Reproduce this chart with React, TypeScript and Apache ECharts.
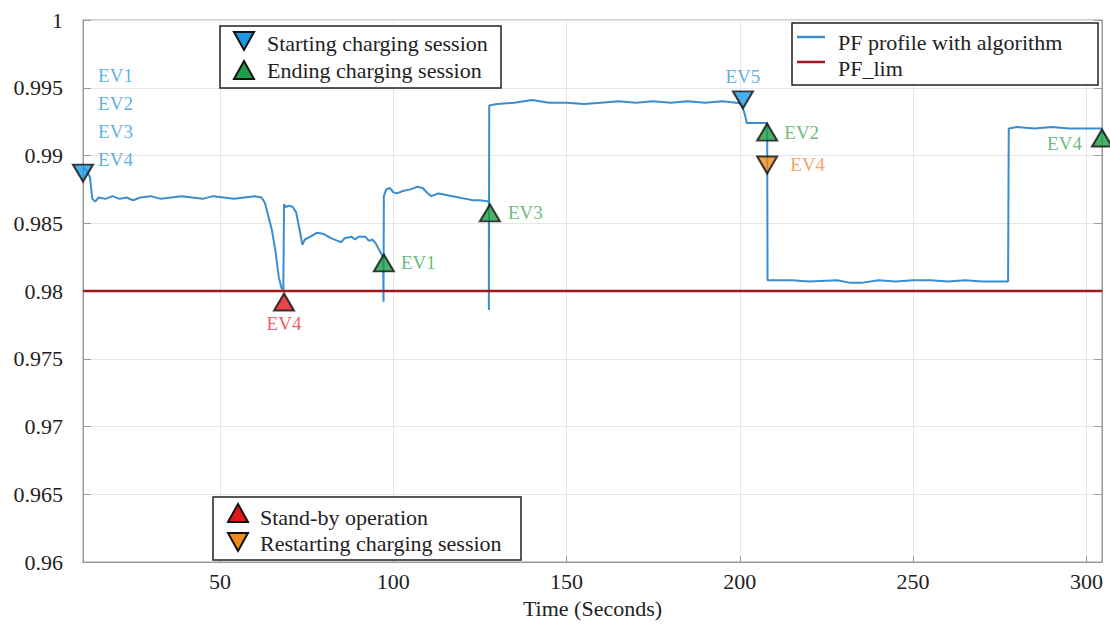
import React, { useEffect, useRef } from 'react';
import * as echarts from 'echarts';

// ---------- data ----------
const xTickValues = [50, 100, 150, 200, 250, 300];
const xRange = [10.5, 304.5];
const yRange = [0.96, 1.0];
const yStep = 0.005;

const pfProfile: [number, number][] = [
  [10.5, 0.9891], [11.5, 0.9889], [12.5, 0.9884], [13.2, 0.9868], [14, 0.9866], [15, 0.9869],
  [17, 0.9868], [19, 0.987], [21, 0.9868], [23, 0.9869], [25, 0.9867], [27, 0.9869], [30, 0.987],
  [33, 0.9868], [36, 0.9869], [39, 0.987], [42, 0.9869], [45, 0.9868], [48, 0.987], [51, 0.9869],
  [54, 0.9868], [57, 0.9869], [60, 0.987], [62, 0.9869], [63, 0.9865], [64, 0.9855], [65, 0.9845],
  [66, 0.983], [67, 0.981], [67.8, 0.9802], [68.3, 0.9801], [68.5, 0.9864], [69, 0.9862],
  [70, 0.9863], [71, 0.9862], [72, 0.9858], [73, 0.9845], [73.8, 0.9834], [74.5, 0.9838],
  [76, 0.984], [78, 0.9843], [80, 0.9842], [82, 0.9839], [84, 0.9837], [85, 0.9836], [86, 0.9839],
  [88, 0.984], [89, 0.9838], [90, 0.984], [92, 0.984], [93, 0.9837], [94, 0.9838], [95, 0.9835],
  [96, 0.983], [97.1, 0.9825], [97.2, 0.9792], [97.3, 0.987], [98, 0.9875], [99, 0.9876],
  [100, 0.9873], [101, 0.9872], [103, 0.9874], [105, 0.9875], [107, 0.9877], [108.5, 0.9876],
  [110, 0.9872], [111, 0.987], [113, 0.9872], [115, 0.9871], [117, 0.987], [119, 0.9869],
  [121, 0.9868], [123, 0.9867], [125, 0.9867], [127.6, 0.9866], [127.6, 0.9786], [127.7, 0.9937],
  [130, 0.9938], [135, 0.9939], [140, 0.9941], [145, 0.9939], [150, 0.9939], [155, 0.9938],
  [160, 0.9939], [165, 0.994], [170, 0.9939], [175, 0.994], [180, 0.9939], [185, 0.994],
  [190, 0.9939], [195, 0.994], [199, 0.9939], [200.5, 0.9938], [201.5, 0.993], [202, 0.9924],
  [205, 0.9924], [207.9, 0.9924], [208, 0.9808], [215, 0.9808], [220, 0.9807], [228, 0.9808],
  [232, 0.9806], [235, 0.9806], [240, 0.9808], [245, 0.9807], [250, 0.9808], [255, 0.9808],
  [260, 0.9807], [265, 0.9808], [270, 0.9807], [277.4, 0.9807], [277.6, 0.992], [280, 0.9921],
  [285, 0.992], [290, 0.9921], [295, 0.992], [300, 0.992], [304.5, 0.992],
];

const pfLimit: [number, number][] = [[10.5, 0.98], [304.5, 0.98]];

const startPoints: [number, number][] = [[10.5, 0.9887], [200.9, 0.9941]];
const startLabels = ['EV1\nEV2\nEV3\nEV4', 'EV5'];

const endPoints: [number, number][] = [[97.3, 0.98207], [127.9, 0.98576], [207.9, 0.99173], [304.5, 0.99129]];
const endLabels = ['EV1', 'EV3', 'EV2', 'EV4'];

const standbyPoints: [number, number][] = [[68.5, 0.97919]];
const standbyLabels = ['EV4'];

const restartPoints: [number, number][] = [[207.9, 0.9893]];
const restartLabels = ['EV4'];

const legendMarkers = ['Starting charging session', 'Ending charging session', 'Stand-by operation', 'Restarting charging session'];
const legendLines = ['PF profile with algorithm', 'PF_lim'];

// ---------- styles ----------
const FONT = "'Liberation Serif', 'Times New Roman', serif";
const C_LINE = '#3a8dcf';
const C_LIM = '#a3151f';
const C_BLUE = '#1b9be3';
const C_GREEN = '#1e9e45';
const C_RED = '#e4161e';
const C_ORANGE = '#f28a1c';
const T_BLUE = '#3a9bdb';
const T_GREEN = '#43a95a';
const T_RED = '#e2323a';
const T_ORANGE = '#f28b3f';

export default function App() {
  const ref = useRef<HTMLDivElement>(null);

  useEffect(() => {
    if (!ref.current) return;
    const chart = echarts.init(ref.current, undefined, { renderer: 'svg' });

    const markerBase = {
      type: 'scatter' as const,
      clip: false,
      z: 5,
      symbol: 'triangle',
      symbolSize: [20, 17],
    };
    const lblBase = { show: true, fontFamily: FONT, fontSize: 19 };

    const startLabelCfg = [
      { position: 'right', distance: 4, offset: [0, -56], lineHeight: 28 },
      { position: 'top', distance: 5 },
    ];
    const endLabelCfg = [
      { position: 'right', distance: 6, offset: [0, 0] },
      { position: 'right', distance: 7, offset: [0, 0] },
      { position: 'right', distance: 6, offset: [0, 0] },
      { position: 'left', distance: 9, offset: [0, 5] },
    ];

    const tri = (cx: number, cy: number, up: boolean, fill: string) => ({
      type: 'polygon',
      shape: {
        points: up
          ? [[cx - 10, cy + 9], [cx + 10, cy + 9], [cx, cy - 9]]
          : [[cx - 10, cy - 9], [cx + 10, cy - 9], [cx, cy + 9]],
      },
      style: { fill, stroke: '#111', lineWidth: 2 },
      z: 100,
    });
    const txt = (x: number, y: number, s: string) => ({
      type: 'text',
      x,
      y,
      style: { text: s, font: `22px ${FONT}`, fill: '#222', verticalAlign: 'middle', align: 'left' },
      z: 100,
    });
    const box = (x: number, y: number, w: number, h: number) => ({
      type: 'rect',
      shape: { x, y, width: w, height: h },
      style: { fill: '#fff', stroke: '#222', lineWidth: 1.5 },
      z: 99,
    });

    const option: any = {
      animation: false,
      backgroundColor: '#fff',
      grid: { left: 83, right: 8, top: 20, bottom: 62, show: true, borderColor: '#9a9a9a', borderWidth: 1 },
      xAxis: {
        type: 'value',
        min: xRange[0],
        max: xRange[1],
        name: 'Time (Seconds)',
        nameLocation: 'middle',
        nameGap: 35,
        nameTextStyle: { fontFamily: FONT, fontSize: 22, color: '#222' },
        axisLine: { show: true, lineStyle: { color: '#9a9a9a' } },
        axisTick: { show: true, inside: true, length: 6, customValues: xTickValues, lineStyle: { color: '#9a9a9a' } },
        axisLabel: { customValues: xTickValues, fontFamily: FONT, fontSize: 22, color: '#222', margin: 8 },
        splitLine: { show: true, lineStyle: { color: '#e6e6e6', width: 1 } },
      },
      yAxis: [
        {
          type: 'value',
          min: yRange[0],
          max: yRange[1],
          interval: yStep,
          axisLine: { show: true, lineStyle: { color: '#9a9a9a' } },
          axisTick: { show: true, inside: true, length: 8, lineStyle: { color: '#9a9a9a' } },
          axisLabel: {
            fontFamily: FONT,
            fontSize: 22,
            color: '#222',
            margin: 20,
            formatter: (v: number) => String(Math.round(v * 1000) / 1000),
          },
          splitLine: { show: true, lineStyle: { color: '#e6e6e6', width: 1 } },
        },
        {
          type: 'value',
          position: 'right',
          min: yRange[0],
          max: yRange[1],
          interval: yStep,
          axisLine: { show: true, lineStyle: { color: '#9a9a9a' } },
          axisTick: { show: true, inside: true, length: 8, lineStyle: { color: '#9a9a9a' } },
          axisLabel: { show: false },
          splitLine: { show: false },
        },
      ],
      series: [
        {
          name: legendLines[0],
          type: 'line',
          data: pfProfile,
          showSymbol: false,
          z: 2,
          lineStyle: { color: C_LINE, width: 2 },
          itemStyle: { color: C_LINE },
        },
        {
          name: legendLines[1],
          type: 'line',
          data: pfLimit,
          showSymbol: false,
          z: 3,
          lineStyle: { color: C_LIM, width: 2.5 },
          itemStyle: { color: C_LIM },
        },
        {
          ...markerBase,
          name: legendMarkers[0],
          symbolRotate: 180,
          itemStyle: { color: C_BLUE, borderColor: '#111', borderWidth: 2 },
          data: startPoints.map((p, i) => ({
            value: p,
            label: { ...lblBase, color: T_BLUE, formatter: startLabels[i], ...startLabelCfg[i] },
          })),
        },
        {
          ...markerBase,
          name: legendMarkers[1],
          itemStyle: { color: C_GREEN, borderColor: '#111', borderWidth: 2 },
          data: endPoints.map((p, i) => ({
            value: p,
            label: { ...lblBase, color: T_GREEN, formatter: endLabels[i], ...endLabelCfg[i] },
          })),
        },
        {
          ...markerBase,
          name: legendMarkers[2],
          itemStyle: { color: C_RED, borderColor: '#111', borderWidth: 2 },
          data: standbyPoints.map((p, i) => ({
            value: p,
            label: { ...lblBase, color: T_RED, formatter: standbyLabels[i], position: 'bottom', distance: 3 },
          })),
        },
        {
          ...markerBase,
          name: legendMarkers[3],
          symbolRotate: 180,
          itemStyle: { color: C_ORANGE, borderColor: '#111', borderWidth: 2 },
          data: restartPoints.map((p, i) => ({
            value: p,
            label: { ...lblBase, color: T_ORANGE, formatter: restartLabels[i], position: 'right', distance: 12 },
          })),
        },
      ],
      graphic: [
        // legend 1
        box(220, 26, 281, 62),
        tri(244, 41, false, C_BLUE),
        tri(244, 70, true, C_GREEN),
        txt(267, 43, legendMarkers[0]),
        txt(267, 70, legendMarkers[1]),
        // legend 2
        box(792, 23, 306, 62),
        { type: 'line', shape: { x1: 797, y1: 37, x2: 825, y2: 37 }, style: { stroke: C_LINE, lineWidth: 2.5 }, z: 100 },
        { type: 'line', shape: { x1: 797, y1: 62, x2: 825, y2: 62 }, style: { stroke: C_LIM, lineWidth: 2.5 }, z: 100 },
        txt(838, 42, legendLines[0]),
        txt(838, 68, legendLines[1]),
        // legend 3
        box(213, 497, 308, 63),
        tri(238, 513, true, C_RED),
        tri(238, 542, false, C_ORANGE),
        txt(260, 517, legendMarkers[2]),
        txt(260, 543, legendMarkers[3]),
      ],
    };

    chart.setOption(option);
    return () => chart.dispose();
  }, []);

  return (
    <div
      ref={ref}
      style={{ position: 'fixed', left: 0, top: 0, width: 1110, height: 624, background: '#fff' }}
    />
  );
}
